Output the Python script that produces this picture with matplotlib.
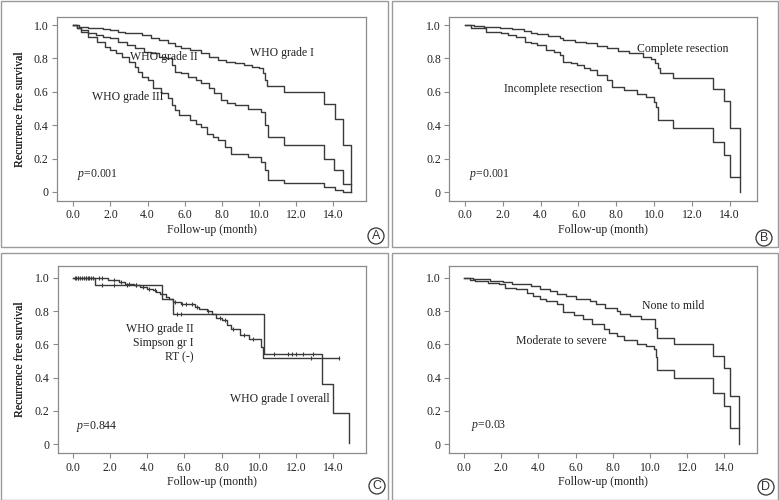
import numpy as np
import matplotlib
matplotlib.use("Agg")
import matplotlib.pyplot as plt
from matplotlib.patches import Rectangle, Circle

# ---------------- data ----------------
x_ticks = [0, 2, 4, 6, 8, 10, 12, 14]
x_tick_labels = ["0.0", "2.0", "4.0", "6.0", "8.0", "10.0", "12.0", "14.0"]
y_ticks = [0, 0.2, 0.4, 0.6, 0.8, 1.0]
y_tick_labels = ["0", "0.2", "0.4", "0.6", "0.8", "1.0"]

# Panel A
a_g1_t = [0, 0.3, 0.8, 1.1, 1.6, 2.0, 2.4, 2.8, 3.3, 3.7, 4.2, 4.6, 5.1, 5.5, 5.8, 6.3, 6.9, 7.3, 7.8, 8.2, 8.7, 9.2, 9.6, 10.0, 10.2, 10.3, 10.45, 11.35, 13.5, 14.1, 14.55, 14.95]
a_g1_s = [1.0, 0.99, 0.985, 0.98, 0.975, 0.97, 0.96, 0.955, 0.95, 0.94, 0.92, 0.91, 0.89, 0.875, 0.86, 0.85, 0.83, 0.81, 0.79, 0.78, 0.77, 0.76, 0.75, 0.74, 0.71, 0.67, 0.635, 0.60, 0.525, 0.44, 0.28, 0.0]
a_g2_t = [0, 0.2, 0.4, 0.8, 1.2, 1.6, 2.0, 2.4, 2.9, 3.3, 3.8, 4.2, 4.6, 5.0, 5.3, 5.5, 5.8, 6.2, 6.6, 6.9, 7.3, 7.6, 7.95, 8.3, 8.7, 9.4, 10.1, 10.3, 10.5, 11.35, 13.5, 14.05, 14.55, 14.95]
a_g2_s = [1.0, 0.98, 0.97, 0.955, 0.94, 0.93, 0.92, 0.90, 0.88, 0.86, 0.84, 0.83, 0.81, 0.80, 0.76, 0.72, 0.71, 0.69, 0.67, 0.65, 0.62, 0.59, 0.55, 0.53, 0.52, 0.50, 0.48, 0.40, 0.33, 0.28, 0.20, 0.13, 0.05, 0.05]
a_g3_t = [0, 0.2, 0.4, 0.8, 1.3, 1.7, 2.0, 2.3, 2.6, 3.0, 3.3, 3.5, 3.7, 4.0, 4.3, 4.7, 5.1, 5.3, 5.5, 5.7, 6.3, 6.6, 6.9, 7.2, 7.5, 7.8, 8.15, 8.5, 9.4, 10.1, 10.3, 10.5, 11.35, 13.5, 14.1, 14.5, 14.95]
a_g3_s = [1.0, 0.98, 0.96, 0.93, 0.90, 0.87, 0.85, 0.83, 0.81, 0.78, 0.75, 0.72, 0.69, 0.67, 0.62, 0.59, 0.56, 0.52, 0.49, 0.46, 0.43, 0.41, 0.39, 0.35, 0.33, 0.31, 0.27, 0.23, 0.21, 0.18, 0.13, 0.07, 0.055, 0.03, 0.012, 0.0, 0.0]

# Panel B
b_comp_t = [0, 0.5, 1.0, 1.85, 2.5, 3.1, 3.5, 3.8, 4.4, 5.0, 5.2, 5.8, 6.4, 7.0, 7.5, 8.1, 8.7, 9.4, 9.85, 10.05, 10.2, 10.3, 11.0, 13.1, 13.68, 14.0, 14.53]
b_comp_s = [1.0, 0.995, 0.99, 0.985, 0.975, 0.965, 0.955, 0.945, 0.935, 0.925, 0.91, 0.90, 0.89, 0.875, 0.86, 0.845, 0.83, 0.81, 0.795, 0.77, 0.74, 0.715, 0.685, 0.615, 0.545, 0.385, 0.0]
b_inc_t = [0, 0.3, 1.1, 1.9, 2.3, 2.7, 3.2, 3.5, 3.8, 4.3, 4.7, 5.0, 5.2, 5.6, 5.9, 6.3, 6.6, 7.0, 7.5, 7.8, 8.4, 9.1, 9.6, 10.0, 10.1, 10.2, 11.0, 13.1, 13.7, 14.0, 14.53]
b_inc_s = [1.0, 0.98, 0.96, 0.95, 0.94, 0.93, 0.90, 0.89, 0.88, 0.85, 0.84, 0.82, 0.78, 0.77, 0.76, 0.745, 0.73, 0.70, 0.67, 0.63, 0.61, 0.59, 0.57, 0.54, 0.51, 0.43, 0.385, 0.30, 0.22, 0.09, 0.09]

# Panel C
c_g2_t = [0, 1.9, 2.5, 2.8, 3.3, 3.6, 4.0, 4.3, 4.5, 4.7, 5.0, 5.2, 5.4, 5.8, 6.6, 6.8, 7.2, 7.5, 7.7, 8.0, 8.3, 8.5, 9.0, 9.5, 10.1, 10.25, 14.3]
c_g2_s = [1.0, 0.985, 0.975, 0.965, 0.955, 0.945, 0.935, 0.925, 0.915, 0.90, 0.885, 0.87, 0.855, 0.845, 0.825, 0.81, 0.80, 0.78, 0.76, 0.745, 0.715, 0.69, 0.655, 0.63, 0.585, 0.52, 0.52]
c_g2_cens = [0.1, 0.2, 0.3, 0.4, 0.5, 0.6, 0.7, 0.8, 0.9, 1.0, 1.1, 1.4, 1.6, 2.2, 2.6, 3.0, 3.4, 3.8, 4.1, 4.4, 4.8, 5.5, 5.9, 6.1, 6.4, 6.7, 7.3, 7.9, 8.2, 8.6, 9.2, 9.7, 12.8, 14.3]
c_g1_t = [0, 1.2, 4.8, 5.4, 10.3, 13.4, 14.0, 14.85]
c_g1_s = [1.0, 0.955, 0.87, 0.785, 0.545, 0.36, 0.185, 0.01]
c_g1_cens = [0.3, 0.7, 1.6, 2.2, 2.9, 3.4, 5.6, 5.8, 10.8, 11.6, 11.8, 12.0, 12.4, 12.9]

# Panel D
d_mild_t = [0, 0.5, 1.4, 2.1, 2.6, 3.0, 3.6, 4.1, 4.6, 5.0, 5.5, 6.0, 6.8, 7.1, 7.6, 8.2, 8.4, 8.9, 9.5, 10.1, 10.25, 10.4, 11.3, 13.4, 14.0, 14.3, 14.8]
d_mild_s = [1.0, 0.99, 0.98, 0.975, 0.965, 0.96, 0.95, 0.935, 0.92, 0.905, 0.89, 0.875, 0.86, 0.84, 0.82, 0.80, 0.785, 0.77, 0.755, 0.75, 0.70, 0.64, 0.605, 0.53, 0.455, 0.29, 0.0]
d_sev_t = [0, 0.3, 0.6, 1.3, 1.9, 2.2, 2.8, 3.4, 3.7, 4.1, 4.4, 5.0, 5.3, 5.9, 6.4, 6.9, 7.5, 7.8, 8.2, 8.6, 9.3, 9.8, 10.2, 10.3, 10.4, 11.3, 13.4, 14.0, 14.3, 14.8]
d_sev_s = [1.0, 0.985, 0.98, 0.97, 0.96, 0.94, 0.93, 0.91, 0.89, 0.875, 0.86, 0.845, 0.795, 0.775, 0.755, 0.725, 0.695, 0.67, 0.65, 0.625, 0.605, 0.59, 0.57, 0.525, 0.445, 0.40, 0.31, 0.23, 0.10, 0.10]

# ---------------- figure ----------------
W, H = 779, 500
fig = plt.figure(figsize=(W / 100, H / 100), dpi=100)
fig.patch.set_facecolor("white")

SERIF = ["Liberation Serif", "DejaVu Serif"]
FS = 8.5
LINE_C = "#3a3a3a"
FRAME_C = "#8a8a8a"
TEXT_C = "#222222"


def fx(px):
    return px / W


def fy(py):
    return 1 - py / H


# panel borders
for (x0, y0, x1, y1) in [(0.5, 0.5, 387.5, 246.5), (391.5, 0.5, 777.5, 246.5),
                         (0.5, 252.5, 387.5, 499.5), (391.5, 252.5, 777.5, 499.5)]:
    fig.add_artist(Rectangle((fx(x0), fy(y1)), fx(x1) - fx(x0), fy(y0) - fy(y1),
                             transform=fig.transFigure, fill=False,
                             edgecolor="#9a9a9a", linewidth=1.0))


def make_axes(left, top, right, bottom, x0px, ppm, y1px, y0px):
    ax = fig.add_axes([fx(left), fy(bottom), fx(right) - fx(left), fy(top) - fy(bottom)])
    ax.set_xlim((left - x0px) / ppm, (right - x0px) / ppm)
    ppu = (y0px - y1px)
    ax.set_ylim(-(bottom - y0px) / ppu, 1 + (y1px - top) / ppu)
    ax.set_xticks(x_ticks)
    ax.set_xticklabels(x_tick_labels, fontfamily=SERIF, fontsize=FS, color=TEXT_C)
    ax.set_yticks(y_ticks)
    ax.set_yticklabels(y_tick_labels, fontfamily=SERIF, fontsize=FS, color=TEXT_C)
    ax.tick_params(direction="out", length=3.5, width=0.8, color=FRAME_C, pad=2.5)
    for sp in ax.spines.values():
        sp.set_color(FRAME_C)
        sp.set_linewidth(0.9)
    ax.patch.set_facecolor("white")
    # axis titles
    fig.text(fx(20), fy((top + bottom) / 2), "Recurrence free survival", rotation=90,
             ha="center", va="center", fontfamily=SERIF, fontsize=FS, color=TEXT_C)
    fig.text(fx((left + right) / 2), fy(bottom + 29), "Follow-up (month)",
             ha="center", va="center", fontfamily=SERIF, fontsize=FS, color=TEXT_C)
    return ax


def km(ax, t, s, cens=None):
    ax.step(t, s, where="post", color=LINE_C, linewidth=1.0)
    if cens:
        t_arr = np.asarray(t)
        s_arr = np.asarray(s)
        idx = np.searchsorted(t_arr, np.asarray(cens), side="right") - 1
        ax.plot(cens, s_arr[idx], linestyle="none", marker="|", markersize=3.5,
                markeredgewidth=0.8, color=LINE_C)


def label(ax, x, y, txt, ha="left", italic_p=False):
    ax.text(x, y, txt, ha=ha, va="center", fontfamily=SERIF, fontsize=FS, color=TEXT_C)


def pval(ax, x, y, val):
    ax.text(x, y, r"$\it{p}$" + "=" + val, ha="left", va="center",
            fontfamily=SERIF, fontsize=FS, color=TEXT_C)


def circ_letter(cx, cy, letter):
    c = Circle((cx / 100, (H - cy) / 100), 0.08, transform=fig.dpi_scale_trans,
               fill=False, edgecolor="#333333", linewidth=0.9)
    fig.add_artist(c)
    fig.text(fx(cx), fy(cy), letter, ha="center", va="center",
             fontfamily=["Liberation Sans", "DejaVu Sans"], fontsize=9, color="#333333")


plt.rcParams["mathtext.fontset"] = "custom"
plt.rcParams["mathtext.it"] = "Liberation Serif:italic"
plt.rcParams["mathtext.rm"] = "Liberation Serif"

# Panel A
axA = make_axes(57, 16.7, 366, 201, 73.3, 18.57, 25, 192)
km(axA, a_g1_t, a_g1_s)
km(axA, a_g2_t, a_g2_s)
km(axA, a_g3_t, a_g3_s)
label(axA, 9.5, 0.83, "WHO grade I")
label(axA, 3.05, 0.81, "WHO grade II")
label(axA, 1.03, 0.567, "WHO grade III")
pval(axA, 0.2, 0.106, "0.001")
circ_letter(376, 236, "A")

# Panel B
axB = make_axes(449.3, 16.7, 757, 201, 465, 18.9, 25, 192.3)
km(axB, b_comp_t, b_comp_s)
km(axB, b_inc_t, b_inc_s)
label(axB, 9.1, 0.856, "Complete resection")
label(axB, 2.08, 0.62, "Incomplete resection")
pval(axB, 0.2, 0.106, "0.001")
circ_letter(764, 238, "B")

# Panel C
axC = make_axes(58, 265.7, 366, 453.3, 72.7, 18.6, 277.7, 444.3)
km(axC, c_g1_t, c_g1_s, c_g1_cens)
km(axC, c_g2_t, c_g2_s, c_g2_cens)
label(axC, 6.48, 0.69, "WHO grade II", ha="right")
label(axC, 6.48, 0.606, "Simpson gr I", ha="right")
label(axC, 6.48, 0.522, "RT (-)", ha="right")
label(axC, 8.46, 0.272, "WHO grade I overall")
pval(axC, 0.2, 0.106, "0.844")
circ_letter(377, 486, "C")

# Panel D
axD = make_axes(449.3, 265.7, 757, 453.3, 464, 18.6, 277.7, 444.3)
km(axD, d_mild_t, d_mild_s)
km(axD, d_sev_t, d_sev_s)
label(axD, 9.59, 0.83, "None to mild")
label(axD, 2.8, 0.62, "Moderate to severe")
pval(axD, 0.35, 0.11, "0.03")
circ_letter(766, 487, "D")

fig.savefig("out.png", dpi=100, facecolor="white")
